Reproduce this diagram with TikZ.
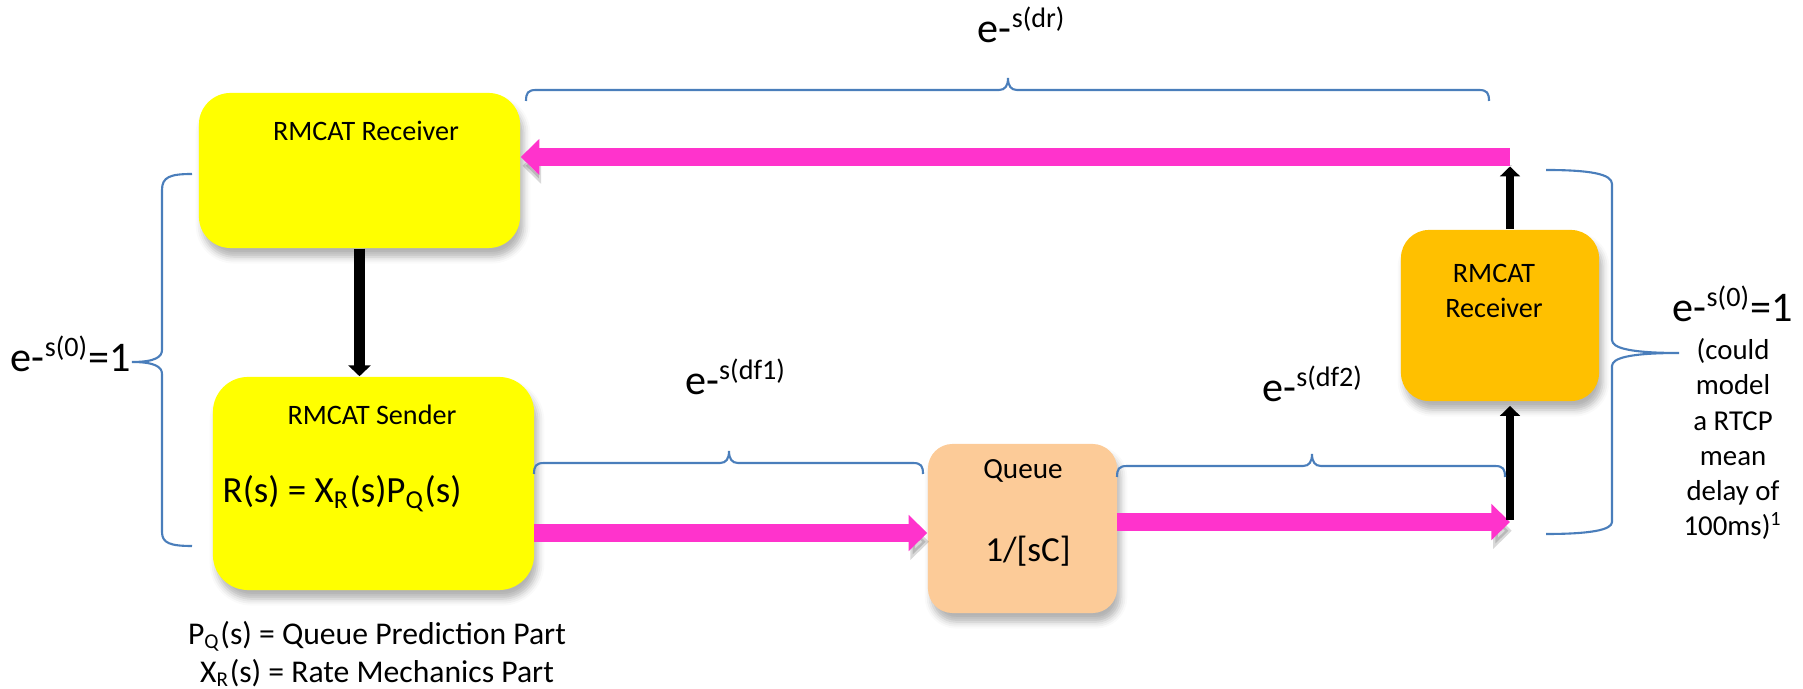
\documentclass[tikz,border=0pt]{standalone}
\usepackage{fontspec}
\setmainfont{Carlito}
\usepackage{tikz}
\usetikzlibrary{arrows.meta,shadows.blur}
\definecolor{rmyellow}{HTML}{FFFF00}
\definecolor{rmorange}{HTML}{FFC000}
\definecolor{rmpeach}{HTML}{FCCB98}
\definecolor{rmpink}{HTML}{FF33CC}
\definecolor{rmblue}{HTML}{4A7EBB}
\newcommand{\sz}[2]{\fontsize{#1}{#2}\selectfont}
\begin{document}
\begin{tikzpicture}[x=0.01cm, y=-0.01cm,
  block/.style={rounded corners=9pt, inner sep=0pt,
    blur shadow={shadow xshift=1pt, shadow yshift=-2.5pt, shadow opacity=30}},
  boxtext/.style={inner sep=0pt, font=\sz{8pt}{9.7pt}},
  delay/.style={inner sep=0pt, font=\sz{12pt}{14pt}},
  bracepath/.style={draw=rmblue, line width=0.6pt},
  pinkarrow/.style={draw=rmpink, line width=5.2pt,
    -{Triangle[width=10pt,length=5.3pt]},
    preaction={draw=black, opacity=0.15, transform canvas={xshift=0.5pt, yshift=-2.5pt}}},
  blackarrow/.style={draw=black, line width=2.4pt,
    -{Triangle[width=5.6pt,length=2.8pt]}}]

  \useasboundingbox (0,0) rectangle (1803,689);

  % blocks
  \node[block, fill=rmyellow, minimum width=3.21cm, minimum height=1.55cm] (rcv) at (359.5,170.5) {};
  \node[block, fill=rmyellow, minimum width=3.21cm, minimum height=2.13cm, rounded corners=10pt] (snd) at (373.5,483.5) {};
  \node[block, fill=rmpeach, minimum width=1.89cm, minimum height=1.69cm, rounded corners=7pt] (que) at (1022.5,528.5) {};
  \node[block, fill=rmorange, minimum width=1.98cm, minimum height=1.71cm, rounded corners=8pt] (orc) at (1500,315.5) {};

  % texts in the blocks
  \node[boxtext, anchor=base] (rcvtxt) at (366,141) {RMCAT Receiver};
  \node[boxtext, anchor=base] (sndtxt) at (372,425) {RMCAT Sender};
  \node[inner sep=0pt, anchor=base west, font=\sz{10.5pt}{12pt}] (rate) at (222,503)
    {R(s) = X\textsubscript{R}(s)P\textsubscript{Q}(s)};
  \node[boxtext, anchor=base, font=\sz{8.3pt}{10pt}] (quetxt) at (1023,479) {Queue};
  \node[boxtext, anchor=base, font=\sz{10pt}{12pt}] (quefn) at (1028,562) {1/[sC]};
  \node[boxtext, anchor=north, align=center] (orctxt) at (1494,264) {RMCAT\\Receiver};

  % turning points on the right
  \coordinate (rtop) at (1510,157);
  \coordinate (rbot) at (1510,522);
  \coordinate (fwd1) at (534,533);
  \coordinate (fwd2) at (1117,522);

  % flow
  \draw[pinkarrow] (fwd1) -- (fwd1 -| que.west);
  \draw[pinkarrow] (fwd2) -- (rbot);
  \draw[pinkarrow] (rtop) -- (rtop -| rcv.east);
  \draw[blackarrow] (rbot) ++(0,-2) -- ([yshift=-1.2pt]orc.south -| rbot);
  \draw[blackarrow] (orc.north -| rtop) -- ([yshift=-2.7pt]rtop);
  \draw[blackarrow, line width=3.1pt, -{Triangle[width=6.3pt,length=3.1pt]}]
    (rcv.south) -- (rcv.south |- snd.north);

  % braces
  \draw[bracepath] (526,101) .. controls (526,93) and (528,90) .. (536,90)
    -- (999,90) .. controls (1005,90) and (1008,86) .. (1008,78)
    .. controls (1008,86) and (1011,90) .. (1017,90)
    -- (1479,90) .. controls (1487,90) and (1489,93) .. (1489,101);
  \draw[bracepath] (534,474) .. controls (534,466) and (536,463) .. (544,463)
    -- (720,463) .. controls (726,463) and (729,459) .. (729,451)
    .. controls (729,459) and (732,463) .. (738,463)
    -- (913,463) .. controls (921,463) and (923,466) .. (923,474);
  \draw[bracepath] (1117,477) .. controls (1117,469) and (1119,466) .. (1127,466)
    -- (1303,466) .. controls (1309,466) and (1312,462) .. (1312,454)
    .. controls (1312,462) and (1315,466) .. (1321,466)
    -- (1495,466) .. controls (1503,466) and (1505,469) .. (1505,477);
  \draw[bracepath] (192,174) .. controls (170,174) and (162,177) .. (162,190)
    -- (162,350) .. controls (162,357) and (155,362) .. (132,362)
    .. controls (155,362) and (162,367) .. (162,374)
    -- (162,532) .. controls (162,543) and (170,546) .. (192,546);
  \draw[bracepath] (1546,170) .. controls (1590,170) and (1612,174) .. (1612,184)
    -- (1612,340) .. controls (1612,348) and (1630,353) .. (1679,353)
    .. controls (1630,353) and (1612,358) .. (1612,366)
    -- (1612,522) .. controls (1612,530) and (1590,534) .. (1546,534);

  % delay labels
  \node[delay, anchor=base] (ddr) at (1022,43) {e-\textsuperscript{s(dr)}};
  \node[delay, anchor=base] (ddf1) at (736,395) {e-\textsuperscript{s(df1)}};
  \node[delay, anchor=base] (ddf2) at (1313,402) {e-\textsuperscript{s(df2)}};
  \node[delay, anchor=base east] (dleft) at (132,372) {e-\textsuperscript{s(0)}=1};
  \node[delay, anchor=base] (dright) at (1733,322) {e-\textsuperscript{s(0)}=1};
  \node[inner sep=0pt, anchor=north, align=center, font=\sz{8.2pt}{10pt}] (rtcp) at (1733,338)
    {(could\\model\\a RTCP\\mean\\delay of\\100ms)\textsuperscript{1}};

  % legend under the sender
  \node[inner sep=0pt, anchor=north, align=center, font=\sz{9pt}{10.8pt}] (legend) at (377,621)
    {P\textsubscript{Q}(s) = Queue Prediction Part\\X\textsubscript{R}(s) = Rate Mechanics Part};
\end{tikzpicture}
\end{document}
